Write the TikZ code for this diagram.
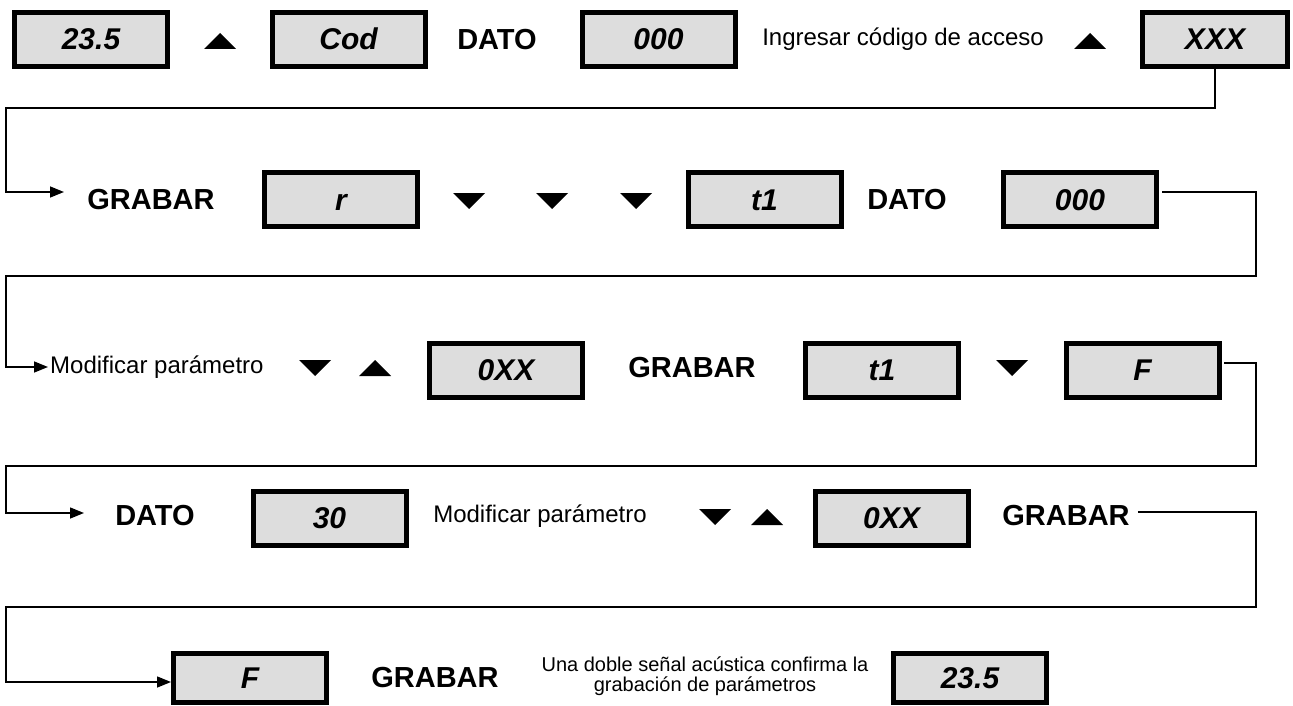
\documentclass[tikz,border=0pt]{standalone}
\usepackage{fontspec}
\setmainfont{Liberation Sans}
\usetikzlibrary{arrows.meta}
\definecolor{boxgray}{RGB}{221,221,221}
\tikzset{
  disp/.style={draw=black, line width=5pt, fill=boxgray, minimum width=153pt, minimum height=54pt, inner sep=0pt,
     text height=21pt, text depth=0pt,
     font=\fontsize{30}{32}\selectfont\bfseries\itshape},
  lbl/.style={inner sep=0pt, font=\fontsize{29}{32}\selectfont\bfseries},
  note/.style={inner sep=0pt, font=\fontsize{24}{26}\selectfont},
  conn/.style={line width=1.5pt},
  arr/.style={conn, -{Triangle[length=14pt,width=11pt]}},
  upkey/.pic={\fill (-16,8) -- (16,8) -- (0,-8) -- cycle;},
  downkey/.pic={\fill (-16,-8) -- (16,-8) -- (0,8) -- cycle;}
}
\begin{document}
\begin{tikzpicture}[x=1pt,y=-1pt]
\useasboundingbox (0,0) rectangle (1293,706);
% Row 1
\node[disp] (b11) at (91,39.5) {23.5};
\pic at (220,41) {upkey};
\node[disp] (b12) at (348.5,39.5) {Cod};
\node[lbl] (d1) at (497,39.5) {DATO};
\node[disp] (b13) at (658.5,39.5) {000};
\node[note] (n1) at (903,39.5) {Ingresar código de acceso};
\pic at (1090,41) {upkey};
\node[disp, minimum width=145pt] (b14) at (1215,39.5) {XXX};
% Row 2
\node[lbl] (g2) at (151,200) {GRABAR};
\node[disp] (b21) at (341,199.5) {r};
\pic at (469,201) {downkey};
\pic at (552,201) {downkey};
\pic at (636,201) {downkey};
\node[disp] (b22) at (764.5,199.5) {t1};
\node[lbl] (d2) at (907,200) {DATO};
\node[disp] (b23) at (1080,199.5) {000};
% Row 3
\node[note, anchor=west] (n3) at (50,367) {Modificar parámetro};
\pic at (315,368) {downkey};
\pic at (375,368) {upkey};
\node[disp] (b31) at (506,370) {0XX};
\node[lbl] (g3) at (692,368) {GRABAR};
\node[disp] (b32) at (882,370) {t1};
\pic at (1012,368) {downkey};
\node[disp] (b33) at (1142.5,370) {F};
% Row 4
\node[lbl] (d4) at (155,516) {DATO};
\node[disp] (b41) at (329.5,518) {30};
\node[note] (n4) at (540,516) {Modificar parámetro};
\pic at (715,517) {downkey};
\pic at (767,517) {upkey};
\node[disp] (b42) at (891.5,518) {0XX};
\node[lbl] (g4) at (1066,516) {GRABAR};
% Row 5
\node[disp, minimum height=49pt] (b51) at (250,678) {F};
\node[lbl] (g5) at (435,678) {GRABAR};
\node[note, align=center, font=\fontsize{20}{20}\selectfont] (n5) at (705,676) {Una doble señal acústica confirma la\\grabación de parámetros};
\node[disp, minimum height=49pt] (b52) at (970,678) {23.5};
% Connectors
\coordinate (c1a) at (1215,108);
\coordinate (c1b) at (6,108);
\coordinate (c1c) at (6,192);
\coordinate (e1) at (64,192);
\draw[arr] (b14.south) -- (c1a) -- (c1b) -- (c1c) -- (e1);
\coordinate (c2s) at (1162,192);
\coordinate (c2a) at (1256,192);
\coordinate (c2b) at (1256,276);
\coordinate (c2c) at (6,276);
\coordinate (c2d) at (6,367);
\coordinate (e2) at (48,367);
\draw[arr] (c2s) -- (c2a) -- (c2b) -- (c2c) -- (c2d) -- (e2);
\coordinate (c3s) at (1224,363);
\coordinate (c3a) at (1256,363);
\coordinate (c3b) at (1256,466);
\coordinate (c3c) at (6,466);
\coordinate (c3d) at (6,513);
\coordinate (e3) at (84,513);
\draw[arr] (c3s) -- (c3a) -- (c3b) -- (c3c) -- (c3d) -- (e3);
\coordinate (c4s) at ([xshift=8pt]g4.east |- 0,512);
\coordinate (c4a) at (1256,512);
\coordinate (c4b) at (1256,607);
\coordinate (c4c) at (6,607);
\coordinate (c4d) at (6,682);
\draw[arr] (c4s) -- (c4a) -- (c4b) -- (c4c) -- (c4d) -- (b51.west |- c4d);
\end{tikzpicture}
\end{document}
